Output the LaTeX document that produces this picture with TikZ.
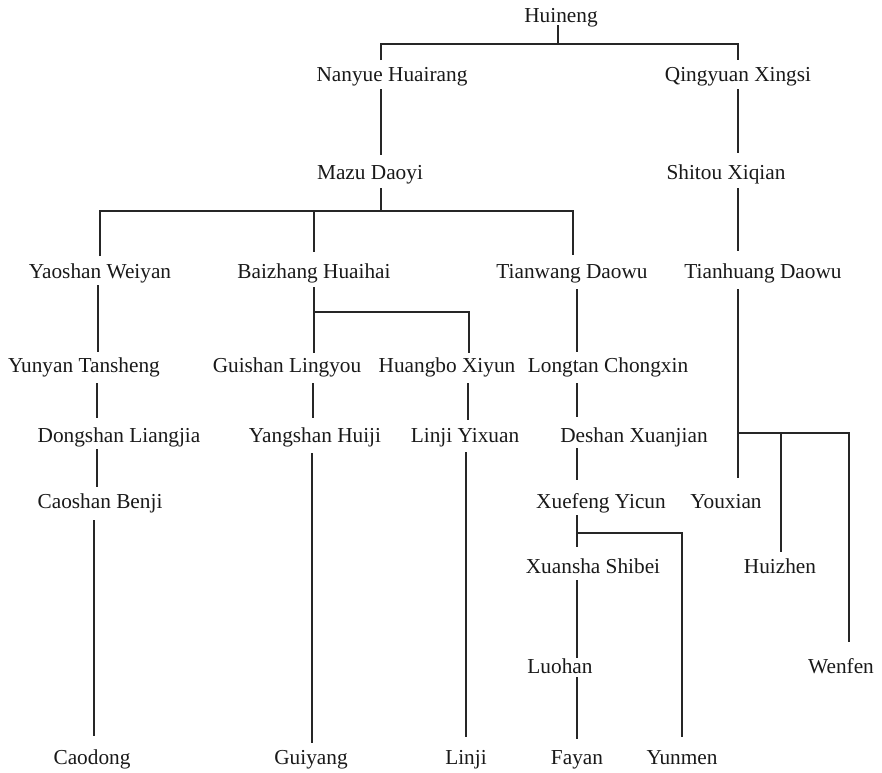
\documentclass[tikz,border=0pt]{standalone}
\usepackage{fontspec}
\setmainfont{Liberation Serif}
\begin{document}
\begin{tikzpicture}[x=1pt,y=-1pt,
  lbl/.style={anchor=base, inner sep=0pt, font=\fontsize{21.3}{24}\selectfont, text=black!90},
  link/.style={line width=1.3pt, draw=black!85}]
\useasboundingbox (0,0) rectangle (882,772);
% nodes (x = text centre, y = baseline)
\node[lbl] (huineng)  at (561,22)  {Huineng};
\node[lbl] (nanyue)   at (392,81)  {Nanyue Huairang};
\node[lbl] (qingyuan) at (738,81)  {Qingyuan Xingsi};
\node[lbl] (mazu)     at (370,179) {Mazu Daoyi};
\node[lbl] (shitou)   at (726,179) {Shitou Xiqian};
\node[lbl] (yaoshan)  at (100,278) {Yaoshan Weiyan};
\node[lbl] (baizhang) at (314,278) {Baizhang Huaihai};
\node[lbl] (tianwang) at (572,278) {Tianwang Daowu};
\node[lbl] (tianhuang)at (763,278) {Tianhuang Daowu};
\node[lbl] (yunyan)   at (84,372)  {Yunyan Tansheng};
\node[lbl] (guishan)  at (287,372) {Guishan Lingyou};
\node[lbl] (huangbo)  at (447,372) {Huangbo Xiyun};
\node[lbl] (longtan)  at (608,372) {Longtan Chongxin};
\node[lbl] (dongshan) at (119,442) {Dongshan Liangjia};
\node[lbl] (yangshan) at (315,442) {Yangshan Huiji};
\node[lbl] (linjiyx)  at (465,442) {Linji Yixuan};
\node[lbl] (deshan)   at (634,442) {Deshan Xuanjian};
\node[lbl] (caoshan)  at (100,508) {Caoshan Benji};
\node[lbl] (xuefeng)  at (601,508) {Xuefeng Yicun};
\node[lbl] (youxian)  at (726,508) {Youxian};
\node[lbl] (xuansha)  at (593,573) {Xuansha Shibei};
\node[lbl] (huizhen)  at (780,573) {Huizhen};
\node[lbl] (luohan)   at (560,673) {Luohan};
\node[lbl] (wenfen)   at (841,673) {Wenfen};
\node[lbl] (caodong)  at (92,764)  {Caodong};
\node[lbl] (guiyang)  at (311,764) {Guiyang};
\node[lbl] (linji)    at (466,764) {Linji};
\node[lbl] (fayan)    at (577,764) {Fayan};
\node[lbl] (yunmen)   at (682,764) {Yunmen};
% branch points
\coordinate (j0) at (558,44);
\coordinate (j1) at (381,211);
\coordinate (j2) at (314,312);
\coordinate (j3) at (738,433);
\coordinate (j4) at (577,533);
% connectors
\draw[link] (558,25) -- (j0);
\draw[link] (381,60) |- (j0) -| (738,60);
\draw[link] (381,89) -- (381,155);
\draw[link] (738,89) -- (738,153);
\draw[link] (381,188) -- (j1);
\draw[link] (100,256) |- (j1) -| (573,255);
\draw[link] (314,211) -- (314,252);
\draw[link] (738,188) -- (738,251);
\draw[link] (98,285) -- (98,352);
\draw[link] (314,287) -- (j2) -- (314,353);
\draw[link] (j2) -| (469,353);
\draw[link] (577,289) -- (577,352);
\draw[link] (738,289) -- (j3) -- (738,478);
\draw[link] (j3) -| (849,642);
\draw[link] (781,433) -- (781,552);
\draw[link] (97,383) -- (97,418);
\draw[link] (97,449) -- (97,487);
\draw[link] (94,520) -- (94,736);
\draw[link] (313,383) -- (313,418);
\draw[link] (312,453) -- (312,743);
\draw[link] (468,383) -- (468,420);
\draw[link] (466,452) -- (466,737);
\draw[link] (577,383) -- (577,417);
\draw[link] (577,448) -- (577,480);
\draw[link] (577,515) -- (j4) -- (577,547);
\draw[link] (j4) -| (682,737);
\draw[link] (577,580) -- (577,658);
\draw[link] (577,677) -- (577,739);
\end{tikzpicture}
\end{document}
